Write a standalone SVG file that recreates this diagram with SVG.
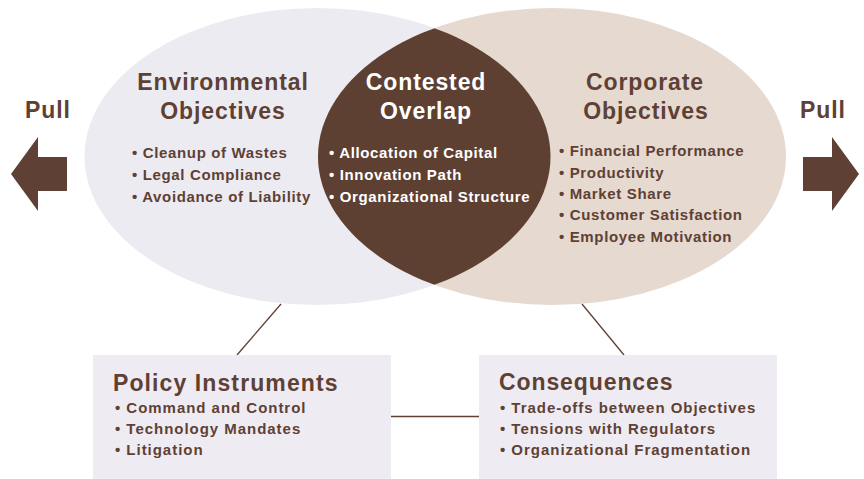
<svg xmlns="http://www.w3.org/2000/svg" width="864" height="479" viewBox="0 0 864 479">
<style>
.t{font-family:"Liberation Sans",Arial,sans-serif;font-weight:bold;fill:#5E4134}
.h{font-size:23px;letter-spacing:0.9px}
.b{font-size:15px;letter-spacing:0.65px}
.bb{font-size:15px;letter-spacing:0.97px}
.w{fill:#FFFFFF}
.c{text-anchor:middle}
.conn{stroke:#5E4134;stroke-width:1.3;fill:none}
.box{fill:#EEECF2}
.arrow{fill:#5E4134}
</style>
<defs>
<clipPath id="leftClip"><ellipse cx="317.5" cy="156.5" rx="233" ry="148.5"/></clipPath>
</defs>
<rect width="864" height="479" fill="#FFFFFF"/>
<g id="connectors">
<line class="conn" x1="281" y1="304" x2="237" y2="355"/>
<line class="conn" x1="582" y1="304" x2="624" y2="355"/>
<line class="conn" x1="391" y1="416.5" x2="480" y2="416.5"/>
</g>
<g id="environmental-objectives">
<ellipse cx="317.5" cy="156.5" rx="233" ry="148.5" fill="#EDEBF2"/>
</g>
<g id="corporate-objectives">
<ellipse cx="552" cy="156.5" rx="234" ry="148.5" fill="#E6D9D0"/>
</g>
<g id="contested-overlap">
<ellipse cx="552" cy="156.5" rx="234" ry="148.5" fill="#5E4033" clip-path="url(#leftClip)"/>
</g>
<g id="environmental-text">
<text class="t h c" x="223" y="90">Environmental</text>
<text class="t h c" x="223" y="119">Objectives</text>
<text class="t b" x="132" y="158">• Cleanup of Wastes</text>
<text class="t b" x="132" y="180">• Legal Compliance</text>
<text class="t b" x="132" y="202">• Avoidance of Liability</text>
</g>
<g id="overlap-text">
<text class="t h c w" x="426" y="90">Contested</text>
<text class="t h c w" x="426" y="119">Overlap</text>
<text class="t b w" x="329" y="158">• Allocation of Capital</text>
<text class="t b w" x="329" y="180">• Innovation Path</text>
<text class="t b w" x="329" y="202">• Organizational Structure</text>
</g>
<g id="corporate-text">
<text class="t h c" x="645" y="90">Corporate</text>
<text class="t h c" x="646" y="119">Objectives</text>
<text class="t b" x="559" y="156">• Financial Performance</text>
<text class="t b" x="559" y="177.5">• Productivity</text>
<text class="t b" x="559" y="198.5">• Market Share</text>
<text class="t b" x="559" y="220">• Customer Satisfaction</text>
<text class="t b" x="559" y="241.5">• Employee Motivation</text>
</g>
<g id="pull-left">
<text class="t h" x="25" y="118">Pull</text>
<polygon class="arrow" points="11,174 38,137 38,157 67,157 67,191 38,191 38,211"/>
</g>
<g id="pull-right">
<text class="t h" x="800" y="118">Pull</text>
<polygon class="arrow" points="859,174 832,137 832,157 803,157 803,191 832,191 832,211"/>
</g>
<g id="policy-instruments">
<rect class="box" x="93" y="355" width="298" height="124"/>
<text class="t h" x="113" y="391" style="letter-spacing:1.1px">Policy Instruments</text>
<text class="t bb" x="115" y="413">• Command and Control</text>
<text class="t bb" x="115" y="434">• Technology Mandates</text>
<text class="t bb" x="115" y="455">• Litigation</text>
</g>
<g id="consequences">
<rect class="box" x="479" y="355" width="298" height="124"/>
<text class="t h" x="499" y="390">Consequences</text>
<text class="t bb" x="500" y="413">• Trade-offs between Objectives</text>
<text class="t bb" x="500" y="434">• Tensions with Regulators</text>
<text class="t bb" x="500" y="455">• Organizational Fragmentation</text>
</g>
</svg>
